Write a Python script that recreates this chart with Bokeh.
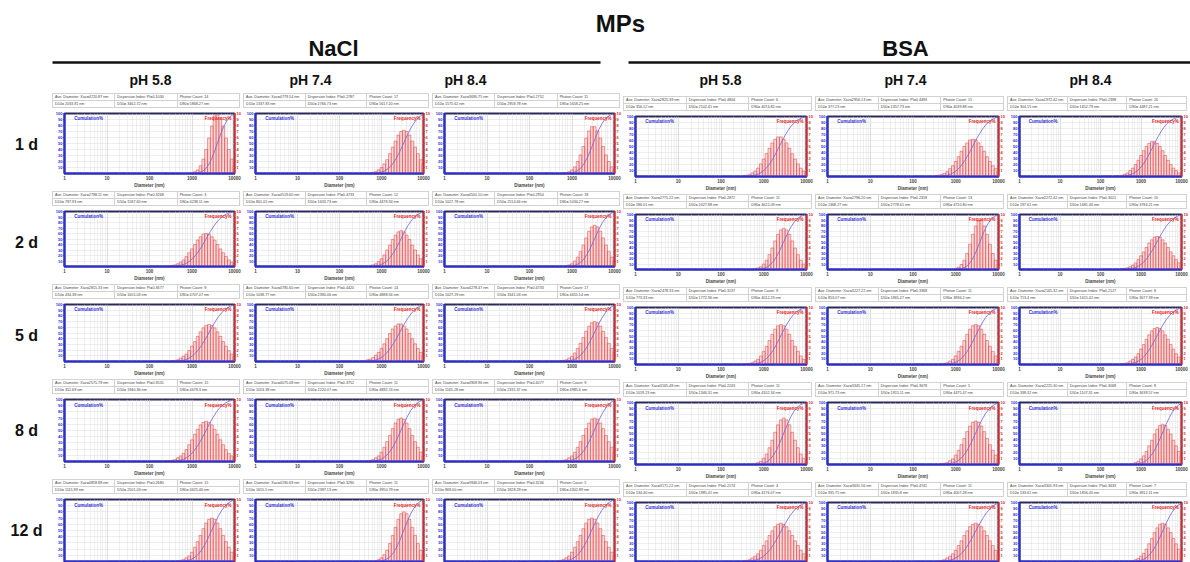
import numpy as np
from bokeh.plotting import figure
from bokeh.models import Range1d, LinearAxis, FixedTicker, NumeralTickFormatter, Div, Label, Spacer
from bokeh.layouts import row, column
from bokeh.embed import file_html
from bokeh.resources import INLINE
from bokeh.core.properties import value

# ---------------- data ----------------
TITLE = "MPs"
GROUPS = ["NaCl", "BSA"]
PH_LABELS = ["pH 5.8", "pH 7.4", "pH 8.4"]
DAYS = ["1 d", "2 d", "5 d", "8 d", "12 d"]
X_TICKS = [1, 10, 100, 1000, 10000]
CUM_TICKS = [10, 20, 30, 40, 50, 60, 70, 80, 90, 100]
FREQ_TICKS = [1, 2, 3, 4, 5, 6, 7, 8, 9, 10]

# bin centres (nm)
BIN_NM = [100, 116.6, 135.9, 158.5, 184.8, 215.4, 251.2, 292.9, 341.5, 398.1,
          464.2, 541.2, 631.0, 735.6, 857.7, 1000, 1166, 1359, 1585, 1848,
          2154, 2512, 2929, 3415, 3981, 4642, 5412, 6310, 7356, 8577, 10000]

# frequency % per bin; columns: NaCl 5.8, 7.4, 8.4, BSA 5.8, 7.4, 8.4
FREQ_1D = [
    [0] * 15 + [0.1, 0.3, 0.6, 1.3, 2.4, 4.0, 5.9, 7.9, 9.6, 9.8, 9.1, 7.9, 5.9, 4.0, 2.4, 1.3],
    [0] * 12 + [0.2, 0.3, 0.6, 1.0, 1.6, 2.3, 3.3, 4.4, 5.4, 6.4, 7.0, 7.2, 7.0, 6.4, 5.4, 4.4, 3.3, 2.3, 1.6],
    [0] * 12 + [0.1, 0.1, 0.3, 0.6, 1.1, 2.0, 3.1, 4.5, 5.9, 7.1, 7.8, 7.8, 7.1, 5.9, 4.5, 3.1, 2.0, 1.1, 0.6],
    [0] * 8 + [0.1, 0.2, 0.3, 0.6, 0.9, 1.4, 2.1, 2.9, 3.8, 4.7, 5.6, 6.2, 6.6, 6.6, 6.2, 5.6, 4.7, 3.8, 2.9, 2.1, 1.4, 0.9, 0.6],
    [0] * 8 + [0.1, 0.2, 0.3, 0.5, 0.8, 1.3, 1.8, 2.5, 3.3, 4.2, 5.0, 5.6, 6.1, 6.2, 6.1, 5.6, 5.0, 4.2, 3.3, 2.5, 1.8, 1.3, 0.8],
    [0] * 6 + [0.1, 0.1, 0.2, 0.4, 0.6, 1.0, 1.4, 2.0, 2.7, 3.5, 4.3, 5.0, 5.5, 5.8, 5.8, 5.5, 5.0, 4.3, 3.5, 2.7, 2.0, 1.4, 1.0, 0.6, 0.4],
]
FREQ_2D = [
    [0] * 7 + [0.1, 0.2, 0.3, 0.5, 0.8, 1.2, 1.8, 2.5, 3.2, 4.0, 4.8, 5.4, 5.9, 6.0, 5.9, 5.4, 4.8, 4.0, 3.2, 2.5, 1.8, 1.2, 0.8, 0.5],
    [0] * 11 + [0.1, 0.3, 0.5, 0.9, 1.4, 2.1, 3.0, 3.9, 4.9, 5.7, 6.3, 6.5, 6.3, 5.7, 4.9, 3.9, 3.0, 2.1, 1.4, 0.9],
    [0] * 13 + [0.1, 0.3, 0.5, 1.0, 1.7, 2.7, 3.9, 5.2, 6.4, 7.2, 7.5, 7.2, 6.4, 5.2, 3.9, 2.7, 1.7, 1.0],
    [0] * 12 + [0.1, 0.3, 0.5, 1.0, 1.7, 2.7, 3.9, 5.2, 6.4, 7.2, 7.5, 7.2, 6.4, 5.2, 3.9, 2.7, 1.7, 1.0, 0.5],
    [0] * 15 + [0.2, 0.4, 0.9, 1.7, 2.9, 4.6, 6.4, 7.9, 8.9, 8.9, 7.9, 6.4, 4.6, 2.9, 1.7, 0.9],
    [0] * 8 + [0.1, 0.2, 0.3, 0.5, 0.8, 1.2, 1.8, 2.5, 3.2, 4.0, 4.8, 5.4, 5.9, 6.0, 5.9, 5.4, 4.8, 4.0, 3.2, 2.5, 1.8, 1.2, 0.8],
]
FREQ_5D = [
    [0] * 8 + [0.1, 0.2, 0.3, 0.6, 0.9, 1.3, 1.9, 2.7, 3.5, 4.4, 5.2, 5.9, 6.3, 6.5, 6.3, 5.9, 5.2, 4.4, 3.5, 2.7, 1.9, 1.3, 0.9],
    [0] * 9 + [0.1, 0.3, 0.4, 0.7, 1.1, 1.6, 2.3, 3.1, 4.0, 4.9, 5.7, 6.2, 6.6, 6.6, 6.2, 5.7, 4.9, 4.0, 3.1, 2.3, 1.6, 1.1],
    [0] * 11 + [0.1, 0.2, 0.3, 0.6, 0.9, 1.5, 2.3, 3.2, 4.2, 5.3, 6.2, 6.8, 7.0, 6.8, 6.2, 5.3, 4.2, 3.2, 2.3, 1.5],
    [0] * 9 + [0.1, 0.2, 0.3, 0.6, 0.9, 1.5, 2.3, 3.2, 4.2, 5.3, 6.2, 6.8, 7.0, 6.8, 6.2, 5.3, 4.2, 3.2, 2.3, 1.5, 0.9, 0.6],
    [0] * 10 + [0.1, 0.2, 0.3, 0.6, 0.9, 1.5, 2.3, 3.2, 4.2, 5.3, 6.2, 6.8, 7.0, 6.8, 6.2, 5.3, 4.2, 3.2, 2.3, 1.5, 0.9],
    [0] * 8 + [0.1, 0.2, 0.3, 0.6, 0.9, 1.3, 1.9, 2.7, 3.5, 4.4, 5.2, 5.9, 6.3, 6.5, 6.3, 5.9, 5.2, 4.4, 3.5, 2.7, 1.9, 1.3, 0.9],
]
FREQ_8D = [
    [0] * 7 + [0.1, 0.2, 0.3, 0.6, 0.9, 1.3, 1.9, 2.7, 3.5, 4.4, 5.2, 5.9, 6.3, 6.5, 6.3, 5.9, 5.2, 4.4, 3.5, 2.7, 1.9, 1.3, 0.9, 0.6],
    [0] * 10 + [0.1, 0.2, 0.3, 0.6, 0.9, 1.5, 2.3, 3.2, 4.2, 5.3, 6.2, 6.8, 7.0, 6.8, 6.2, 5.3, 4.2, 3.2, 2.3, 1.5, 0.9],
    [0] * 11 + [0.1, 0.2, 0.3, 0.6, 0.9, 1.5, 2.3, 3.2, 4.2, 5.3, 6.2, 6.8, 7.0, 6.8, 6.2, 5.3, 4.2, 3.2, 2.3, 1.5],
    [0] * 12 + [0.1, 0.3, 0.5, 1.0, 1.7, 2.7, 3.9, 5.2, 6.4, 7.2, 7.5, 7.2, 6.4, 5.2, 3.9, 2.7, 1.7, 1.0, 0.5],
    [0] * 10 + [0.1, 0.2, 0.3, 0.6, 0.9, 1.5, 2.3, 3.2, 4.2, 5.3, 6.2, 6.8, 7.0, 6.8, 6.2, 5.3, 4.2, 3.2, 2.3, 1.5, 0.9],
    [0] * 12 + [0.1, 0.3, 0.5, 0.9, 1.4, 2.1, 3.0, 3.9, 4.9, 5.7, 6.3, 6.5, 6.3, 5.7, 4.9, 3.9, 3.0, 2.1, 1.4],
]
FREQ_12D = [
    [0] * 10 + [0.1, 0.2, 0.3, 0.6, 0.9, 1.5, 2.3, 3.2, 4.2, 5.3, 6.2, 6.8, 7.0, 6.8, 6.2, 5.3, 4.2, 3.2, 2.3, 1.5, 0.9],
    [0] * 13 + [0.1, 0.3, 0.6, 1.1, 1.8, 2.9, 4.2, 5.5, 6.8, 7.7, 8.0, 7.7, 6.8, 5.5, 4.2, 2.9, 1.8, 1.1],
    [0] * 10 + [0.1, 0.2, 0.3, 0.6, 0.9, 1.5, 2.3, 3.2, 4.2, 5.3, 6.2, 6.8, 7.0, 6.8, 6.2, 5.3, 4.2, 3.2, 2.3, 1.5, 0.9],
    [0] * 8 + [0.1, 0.2, 0.3, 0.6, 0.9, 1.3, 1.9, 2.7, 3.5, 4.4, 5.2, 5.9, 6.3, 6.5, 6.3, 5.9, 5.2, 4.4, 3.5, 2.7, 1.9, 1.3, 0.9],
    [0] * 9 + [0.1, 0.2, 0.3, 0.6, 0.9, 1.3, 1.9, 2.7, 3.5, 4.4, 5.2, 5.9, 6.3, 6.5, 6.3, 5.9, 5.2, 4.4, 3.5, 2.7, 1.9, 1.3],
    [0] * 12 + [0.1, 0.3, 0.5, 0.9, 1.4, 2.1, 3.0, 3.9, 4.9, 5.7, 6.3, 6.5, 6.3, 5.7, 4.9, 3.9, 3.0, 2.1, 1.4],
]
FREQ_ROWS = [FREQ_1D, FREQ_2D, FREQ_5D, FREQ_8D, FREQ_12D]

# instrument read-outs (row-major: day, then NaCl 5.8/7.4/8.4, BSA 5.8/7.4/8.4)
XAV = ["4720.87", "4779.54", "3690.75", "2825.39", "2956.13", "1972.42",
       "2798.11", "4519.60", "4501.10", "2775.22", "2796.20", "2272.42",
       "2815.33", "4785.60", "4278.47", "2478.33", "3227.22", "2165.32",
       "2575.78", "4075.08", "4909.96", "3165.48", "3345.17", "2225.30",
       "4858.88", "4190.69", "3946.03", "3171.22", "3631.56", "3305.93"]
PI = ["0.1030", "0.2787", "0.2752", "0.4804", "0.4493", "0.2398",
      "0.3268", "0.4733", "0.2954", "0.2872", "0.2318", "0.3021",
      "0.3677", "0.4420", "0.4733", "0.3137", "0.3368", "0.2127",
      "0.3531", "0.3752", "0.4077", "0.2243", "0.3678", "0.3068",
      "0.2680", "0.3290", "0.3246", "0.2174", "0.4741", "0.3633"]
PHOTON = ["14", "17", "11", "6", "15", "20",
          "3", "12", "18", "11", "13", "10",
          "9", "14", "17", "9", "11", "8",
          "15", "11", "9", "11", "5", "8",
          "15", "11", "5", "4", "11", "7"]
D10 = ["2033.81", "1337.83", "1575.62", "356.12", "377.23", "304.15",
       "797.93", "801.05", "1027.78", "586.01", "1368.27", "197.61",
       "434.38", "1038.77", "1027.29", "773.33", "853.07", "713.4",
       "352.69", "1053.38", "1165.28", "1019.23", "971.73", "338.32",
       "1115.99", "1615.5", "869.00", "534.40", "935.75", "533.61"]
D50 = ["3462.72", "2766.73", "2958.78", "2102.41", "2357.73", "1652.79",
       "1587.60", "1633.73", "2514.66", "2027.88", "2778.61", "1681.46",
       "1655.03", "2390.06", "3341.03", "1772.96", "1865.27", "1615.42",
       "1940.36", "2220.07", "2331.37", "2346.31", "1915.11", "1107.31",
       "2501.03", "2397.13", "1828.29", "1985.41", "1835.8", "1856.40"]
D90 = ["5868.27", "5617.20", "5658.25", "4074.82", "4039.88", "4487.21",
       "4238.11", "4478.34", "5034.27", "4622.09", "4710.80", "3784.21",
       "4707.07", "4888.56", "4655.14", "4012.23", "3836.2", "3677.39",
       "4679.3", "4892.74", "4985.6", "4102.34", "4475.47", "3639.57",
       "4625.46", "3950.79", "4302.89", "4176.07", "4007.28", "3812.11"]

# ---------------- layout ----------------
W_TOTAL, H_TOTAL = 1190, 562
HEAD_H = 92
LABEL_W = 52
COL_W = [191, 189, 191, 192, 192, 183]
COL_BL = [6, 9, 9, 10, 10, 10]
ROW_H = [98, 93, 95, 100, 84]
TABLE_H = 17
GAP_TOP = 4
FRAME_H = [62, 60, 61, 62, 62]
BSA_SHIFT = 3

FONT = value("Liberation Sans")
BLUE = "#2d2dd6"
RED = "#e12424"


def edges(centres):
    c = np.asarray(centres, dtype=float)
    mid = np.sqrt(c[:-1] * c[1:])
    left = np.concatenate([[c[0] / np.sqrt(c[1] / c[0])], mid])
    right = np.concatenate([mid, [c[-1] * np.sqrt(c[-1] / c[-2])]])
    return left, right


BIN_L, BIN_R = edges(BIN_NM)
MINOR = [m * 10 ** e for e in range(4) for m in range(2, 10)]


def table_div(i, w):
    td = ("border:1px solid #d2d2d2;padding:0 0 0 2px;height:7px;white-space:nowrap;"
          "overflow:hidden;")
    r1 = [f"Ave. Diameter: Xav={XAV[i]} nm", f"Dispersion Index: PI={PI[i]}", f"Photon Count: {PHOTON[i]}"]
    r2 = [f"D10= {D10[i]} nm", f"D50= {D50[i]} nm", f"D90= {D90[i]} nm"]
    rows_html = ""
    for r in (r1, r2):
        rows_html += "<tr>" + "".join(f'<td style="{td}">{t}</td>' for t in r) + "</tr>"
    html = ('<table style="border-collapse:collapse;table-layout:fixed;width:%dpx;'
            "font-family:'Liberation Sans',Arial,sans-serif;font-size:3.7px;line-height:6px;color:#444;"
            'margin:1px 0 0 0">%s</table>' % (w - 3, rows_html))
    return Div(text=html, width=w, height=TABLE_H, margin=0, styles={"overflow": "hidden"})


def panel(r, c, row_h, frame_h):
    w = COL_W[c]
    fh = row_h - TABLE_H
    bt = GAP_TOP
    bb = max(fh - bt - frame_h, 1)
    last_row = r == len(DAYS) - 1
    p = figure(width=w, height=fh, x_axis_type="log", x_range=Range1d(1, 10000),
               y_range=Range1d(0, 100), output_backend="svg", toolbar_location=None,
               min_border_left=COL_BL[c], min_border_right=5, min_border_top=bt, min_border_bottom=bb)
    p.extra_y_ranges = {"freq": Range1d(0, 10)}
    p.background_fill_color = "white"
    p.outline_line_color = "#2a2a5a"
    p.outline_line_width = 2

    # grids
    xt = FixedTicker(ticks=X_TICKS, minor_ticks=MINOR)
    p.xaxis.ticker = xt
    p.xgrid.ticker = xt
    p.xgrid.grid_line_color = "#c8c8c8"
    p.xgrid.grid_line_width = 0.6
    p.xgrid.minor_grid_line_color = "#dedede"
    p.xgrid.minor_grid_line_width = 0.5
    p.ygrid.ticker = FixedTicker(ticks=CUM_TICKS)
    p.ygrid.grid_line_color = "#dcdcdc"
    p.ygrid.grid_line_width = 0.5

    # bottom axis
    ax = p.xaxis[0]
    ax.formatter = NumeralTickFormatter(format="0")
    ax.axis_line_color = BLUE
    ax.axis_line_width = 2
    ax.major_tick_in = 0
    ax.major_tick_out = 1
    ax.minor_tick_in = 0
    ax.minor_tick_out = 0
    ax.major_tick_line_color = BLUE
    if last_row:
        ax.major_label_text_font_size = "0px"
        ax.major_label_standoff = 0
        ax.major_tick_out = 0
    else:
        ax.axis_label = "Diameter (nm)"
        ax.axis_label_text_font_size = "4.5px"
        ax.axis_label_text_font_style = "bold"
        ax.axis_label_text_font = "Liberation Sans"
        ax.axis_label_standoff = 0
        ax.major_label_text_font_size = "4.5px"
        ax.major_label_text_font_style = "bold"
        ax.major_label_text_font = "Liberation Sans"
        ax.major_label_standoff = 1

    # left axis (cumulation)
    ay = p.yaxis[0]
    ay.ticker = FixedTicker(ticks=CUM_TICKS)
    ay.axis_line_color = BLUE
    ay.axis_line_width = 2
    ay.major_tick_in = 0
    ay.major_tick_out = 1
    ay.minor_tick_out = 0
    ay.minor_tick_in = 0
    ay.major_tick_line_color = BLUE
    ay.major_label_text_color = BLUE
    ay.major_label_text_font_size = "4px"
    ay.major_label_text_font_style = "bold"
    ay.major_label_text_font = "Liberation Sans"
    ay.major_label_standoff = 1

    # right axis (frequency)
    ar = LinearAxis(y_range_name="freq", ticker=FixedTicker(ticks=FREQ_TICKS))
    ar.axis_line_color = RED
    ar.axis_line_width = 1.5
    ar.major_tick_in = 0
    ar.major_tick_out = 1
    ar.minor_tick_out = 0
    ar.minor_tick_in = 0
    ar.major_tick_line_color = RED
    ar.major_label_text_color = RED
    ar.major_label_text_font_size = "4px"
    ar.major_label_text_font_style = "bold"
    ar.major_label_text_font = "Liberation Sans"
    ar.major_label_standoff = 1
    p.add_layout(ar, "right")

    freq = np.asarray(FREQ_ROWS[r][c], dtype=float)
    nz = freq > 0
    p.quad(left=BIN_L[nz], right=BIN_R[nz], bottom=0, top=freq[nz], y_range_name="freq",
           fill_color="#f6b0b0", fill_alpha=0.45, line_color="#e23a3a", line_width=0.5)
    first = np.argmax(nz)
    cum = np.cumsum(freq[first:])
    cum = cum / cum[-1] * 100
    cx = np.concatenate([[BIN_L[first]], BIN_R[first:]])
    cy = np.concatenate([[0], cum])
    p.line(cx, cy, line_color="#6b62e6", line_width=0.8)

    p.add_layout(Label(x=1.7, y=91, text="Cumulation%", text_color=BLUE, text_font_size="4.5px",
                       text_font_style="bold", text_font="Liberation Sans", text_baseline="middle"))
    p.add_layout(Label(x=8500, y=91, text="Frequency%", text_color=RED, text_font_size="4.5px",
                       text_font_style="bold", text_font="Liberation Sans", text_baseline="middle",
                       text_align="right"))
    return column(table_div(r * 6 + c, w), p, spacing=0)


# header
head = figure(width=W_TOTAL, height=HEAD_H, x_range=Range1d(0, W_TOTAL), y_range=Range1d(HEAD_H, 0),
              output_backend="svg", toolbar_location=None, x_axis_location=None, y_axis_location=None,
              min_border=0)
head.grid.visible = False
head.outline_line_color = None
head.text(x=[620], y=[23], text=[TITLE], text_font=FONT, text_font_style="bold",
          text_font_size="24px", text_align="center", text_baseline="middle", text_color="#111")
head.text(x=[333, 905], y=[48, 48], text=GROUPS, text_font=FONT, text_font_style="bold",
          text_font_size="22px", text_align="center", text_baseline="middle", text_color="#111")
head.segment(x0=[52, 628], y0=[62, 62], x1=[600, 1190], y1=[62, 62], line_color="#111", line_width=2.5)
ph_x = [150, 310, 465, 720, 905, 1090]
head.text(x=ph_x, y=[79] * 6, text=PH_LABELS * 2, text_font=FONT, text_font_style="bold",
          text_font_size="14px", text_align="center", text_baseline="middle", text_color="#111")

# row labels
lab = figure(width=LABEL_W, height=H_TOTAL - HEAD_H, x_range=Range1d(0, LABEL_W),
             y_range=Range1d(H_TOTAL - HEAD_H, 0), output_backend="svg", toolbar_location=None,
             x_axis_location=None, y_axis_location=None, min_border=0)
lab.grid.visible = False
lab.outline_line_color = None
lab.text(x=[26] * 5, y=[52, 150, 243, 338, 438], text=DAYS, text_font=FONT, text_font_style="bold",
         text_font_size="16px", text_align="center", text_baseline="middle", text_color="#111")

nacl_rows = []
bsa_rows = []
for r in range(len(DAYS)):
    nacl_rows.append(row(*[panel(r, c, ROW_H[r], FRAME_H[r]) for c in range(3)], spacing=0))
    if r == len(DAYS) - 1:
        bh, bf = ROW_H[r] - BSA_SHIFT, FRAME_H[r] - BSA_SHIFT
    else:
        bh, bf = ROW_H[r], FRAME_H[r]
    bsa_rows.append(row(*[panel(r, c, bh, bf) for c in range(3, 6)], spacing=0))

nacl_block = column(*nacl_rows, spacing=0)
bsa_block = column(Spacer(width=sum(COL_W[3:]), height=BSA_SHIFT, margin=0), *bsa_rows, spacing=0)
layout = column(head, row(lab, nacl_block, bsa_block, spacing=0), spacing=0)

open("out.html", "w").write(file_html(layout, INLINE))
